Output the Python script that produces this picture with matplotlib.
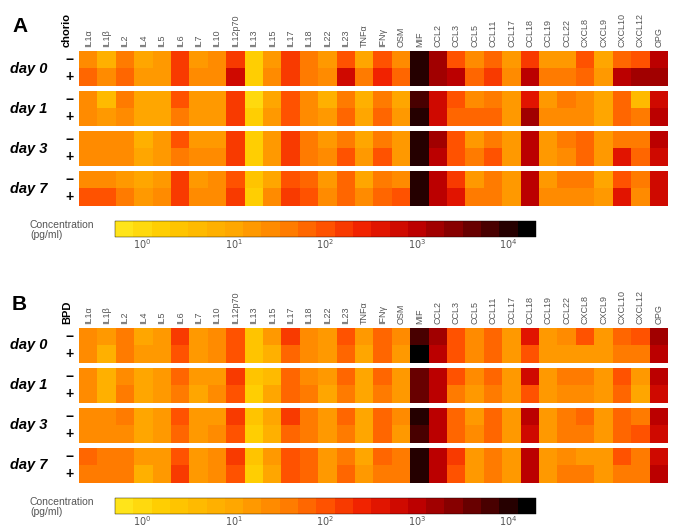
import numpy as np
import matplotlib
matplotlib.use("Agg")
import matplotlib.pyplot as plt
from matplotlib.colors import LinearSegmentedColormap, LogNorm

plt.rcParams["font.family"] = ["Liberation Sans", "DejaVu Sans"]

cytokines = ["IL1\u03b1", "IL1\u03b2", "IL2", "IL4", "IL5", "IL6", "IL7", "IL10", "IL12p70",
             "IL13", "IL15", "IL17", "IL18", "IL22", "IL23", "TNF\u03b1", "IFN\u03b3", "OSM",
             "MIF", "CCL2", "CCL3", "CCL5", "CCL11", "CCL17", "CCL18", "CCL19", "CCL22",
             "CXCL8", "CXCL9", "CXCL10", "CXCL12", "OPG"]
days = ["day 0", "day 1", "day 3", "day 7"]

# log10 concentration (pg/ml), rows: day0-, day0+, day1-, day1+, day3-, day3+, day7-, day7+
chorio_log = [
    [1.4, 0.8, 1.6, 1.0, 1.1, 2.1, 1.2, 1.3, 2.2, 0.1, 1.2, 2.1, 1.5, 1.2, 1.9, 1.0, 1.9, 1.3,
     4.0, 3.1, 2.0, 1.4, 1.7, 1.2, 2.3, 1.1, 1.2, 1.9, 1.0, 1.8, 1.9, 3.0],
    [1.8, 1.4, 1.8, 1.2, 1.2, 2.2, 1.3, 1.4, 2.7, 0.2, 1.3, 2.2, 1.6, 1.3, 2.8, 1.5, 2.4, 1.7,
     4.1, 3.1, 3.0, 1.7, 2.1, 1.3, 3.0, 1.6, 1.6, 1.7, 1.1, 3.0, 3.1, 3.1],
    [1.4, 0.6, 1.5, 1.0, 1.0, 2.0, 1.1, 1.2, 2.1, 0.0, 1.0, 1.9, 1.4, 0.8, 1.5, 0.8, 1.6, 1.0,
     3.7, 2.8, 2.0, 1.3, 1.6, 1.1, 2.5, 1.1, 1.6, 1.3, 0.9, 1.8, 0.6, 2.8],
    [1.3, 1.1, 1.4, 1.0, 1.0, 1.6, 1.1, 1.2, 2.1, 0.1, 1.1, 1.9, 1.3, 1.2, 1.8, 1.0, 1.7, 1.2,
     4.1, 2.8, 1.8, 1.8, 1.7, 1.1, 3.1, 1.3, 1.3, 1.4, 1.0, 1.8, 1.6, 2.9],
    [1.4, 1.3, 1.4, 0.8, 1.2, 1.9, 1.2, 1.2, 2.1, 0.1, 1.2, 2.2, 1.5, 1.1, 1.6, 1.0, 1.6, 1.2,
     4.0, 3.1, 1.9, 1.1, 1.6, 1.2, 3.0, 1.1, 1.6, 1.8, 1.1, 1.6, 1.5, 2.9],
    [1.4, 1.3, 1.4, 1.0, 1.2, 1.6, 1.3, 1.3, 2.1, 0.2, 1.1, 2.1, 1.5, 1.3, 1.9, 1.1, 1.9, 1.2,
     4.0, 3.0, 1.9, 1.5, 1.9, 1.1, 3.0, 1.1, 1.4, 1.8, 1.1, 2.6, 1.8, 2.8],
    [1.3, 1.4, 1.2, 1.0, 1.2, 2.1, 1.2, 1.3, 1.9, 0.3, 0.9, 1.9, 1.8, 1.1, 1.8, 1.0, 1.6, 1.4,
     4.0, 2.9, 2.2, 1.1, 1.5, 1.1, 3.0, 1.1, 1.6, 1.6, 1.0, 2.0, 1.6, 2.8],
    [2.0, 1.9, 1.5, 1.2, 1.3, 2.1, 1.3, 1.4, 2.1, 0.2, 1.3, 2.1, 2.0, 1.3, 1.8, 1.4, 1.8, 1.9,
     4.1, 2.9, 2.5, 1.6, 1.6, 1.1, 3.0, 1.3, 1.4, 1.4, 1.2, 2.6, 1.3, 2.8],
]

bpd_log = [
    [1.4, 1.2, 1.5, 1.0, 1.2, 2.2, 1.2, 1.3, 2.0, 0.4, 1.2, 2.1, 1.4, 1.1, 1.9, 1.1, 1.8, 1.3,
     3.7, 3.1, 2.0, 1.3, 1.8, 1.1, 2.6, 1.2, 1.3, 2.0, 1.1, 1.8, 1.9, 3.1],
    [1.3, 0.8, 1.5, 1.1, 1.2, 1.9, 1.2, 1.3, 2.0, 0.3, 0.8, 1.8, 1.4, 1.1, 1.8, 1.0, 1.8, 1.2,
     4.3, 3.0, 1.9, 1.3, 1.7, 1.1, 2.0, 1.2, 1.2, 1.2, 1.1, 1.5, 1.5, 3.0],
    [1.4, 0.8, 1.4, 0.9, 1.1, 1.7, 1.1, 1.2, 2.1, 0.4, 0.6, 1.7, 1.3, 1.2, 1.7, 1.0, 1.7, 1.2,
     3.6, 3.0, 1.9, 1.3, 1.7, 1.2, 2.7, 1.2, 1.5, 1.5, 1.1, 1.9, 1.1, 2.9],
    [1.3, 0.8, 1.5, 1.0, 1.1, 1.6, 0.9, 1.3, 2.0, 0.2, 0.9, 1.7, 1.5, 1.0, 1.6, 0.9, 1.6, 1.1,
     3.5, 2.9, 1.6, 1.2, 1.5, 1.2, 2.0, 1.2, 1.4, 1.4, 1.1, 1.7, 1.0, 2.8],
    [1.4, 1.3, 1.5, 0.9, 1.2, 2.0, 1.1, 1.2, 2.1, 0.3, 1.0, 2.1, 1.5, 1.2, 1.8, 1.0, 1.8, 1.4,
     4.0, 3.0, 1.8, 1.2, 1.7, 1.1, 2.9, 1.1, 1.5, 1.7, 1.1, 1.7, 1.6, 2.9],
    [1.4, 1.3, 1.4, 0.9, 1.2, 1.8, 1.2, 1.3, 2.0, 0.1, 0.8, 1.8, 1.5, 1.1, 1.6, 1.0, 1.8, 1.2,
     3.8, 3.0, 1.8, 1.3, 1.8, 1.1, 2.8, 1.1, 1.5, 1.6, 1.1, 1.7, 2.0, 2.8],
    [1.8, 1.5, 1.5, 1.2, 1.2, 2.0, 1.2, 1.3, 2.1, 0.4, 1.1, 2.0, 1.8, 1.2, 1.6, 1.0, 1.7, 1.5,
     4.0, 2.9, 2.3, 1.2, 1.6, 1.1, 2.9, 1.1, 1.4, 1.2, 1.1, 2.0, 1.5, 2.8],
    [1.6, 1.5, 1.5, 0.8, 1.2, 2.2, 1.2, 1.3, 2.0, 0.2, 0.9, 1.9, 1.7, 1.2, 1.7, 1.2, 1.6, 1.5,
     4.0, 2.9, 2.0, 1.2, 1.6, 1.1, 2.9, 1.2, 1.5, 1.6, 1.2, 1.6, 1.6, 2.9],
]

cmap = LinearSegmentedColormap.from_list("conc", [
    (0.0, "#ffe41a"), (0.1, "#ffcc00"), (0.28, "#ffa500"), (0.4, "#ff8000"),
    (0.5, "#ff5200"), (0.6, "#f01e00"), (0.72, "#c00000"), (0.83, "#800000"),
    (0.93, "#3a0000"), (1.0, "#000000")]).resampled(23)
norm = LogNorm(vmin=10 ** -0.3, vmax=10 ** 4.3)

W, H = 673, 532
fig = plt.figure(figsize=(6.73, 5.32), dpi=100)


def px_axes(x0, y0, x1, y1):
    return fig.add_axes([x0 / W, 1 - y1 / H, (x1 - x0) / W, (y1 - y0) / H])


def panel(data_log, letter, group, top):
    conc = 10 ** np.array(data_log)
    block_h, gap = 35.0, 5.0
    for i, day in enumerate(days):
        y0 = top + i * (block_h + gap)
        ax = px_axes(79, y0, 668, y0 + block_h)
        ax.imshow(conc[2 * i:2 * i + 2], cmap=cmap, norm=norm, aspect="auto",
                  interpolation="nearest")
        ax.set_yticks([])
        for s in ax.spines.values():
            s.set_visible(False)
        if i == 0:
            ax.xaxis.tick_top()
            ax.set_xticks(range(len(cytokines)))
            ax.set_xticklabels(cytokines, rotation=90, fontsize=6.5, color="#555555")
            ax.tick_params(axis="x", length=0, pad=3)
        else:
            ax.set_xticks([])
        ax.text(-0.016, 0.75, "\u2212", transform=ax.transAxes, ha="center", va="center",
                fontsize=10, fontweight="bold")
        ax.text(-0.016, 0.25, "+", transform=ax.transAxes, ha="center", va="center",
                fontsize=10, fontweight="bold")
        fig.text(29 / W, 1 - (y0 + block_h / 2) / H, day, ha="center", va="center",
                 fontsize=10.5, fontweight="bold", style="italic")
    fig.text(67 / W, 1 - (top - 4) / H, group, rotation=90, ha="center", va="bottom",
             fontsize=8, fontweight="bold")
    fig.text(12 / W, 1 - (top - 24) / H, letter, ha="left", va="center",
             fontsize=15, fontweight="bold")

    # colour scale
    cb_top = top + 4 * block_h + 3 * gap + 15
    cax = px_axes(115, cb_top, 536, cb_top + 16)
    sm = plt.cm.ScalarMappable(norm=norm, cmap=cmap)
    cb = fig.colorbar(sm, cax=cax, orientation="horizontal")
    cb.outline.set_linewidth(0.3)
    cb.set_ticks([1, 10, 100, 1000, 10000])
    cb.set_ticklabels(["$10^{0}$", "$10^{1}$", "$10^{2}$", "$10^{3}$", "$10^{4}$"])
    cax.tick_params(length=0, labelsize=7, labelcolor="#555555", pad=0.5)
    cax.minorticks_off()
    fig.text(30 / W, 1 - (cb_top + 9) / H, "Concentration\n(pg/ml)", ha="left",
             va="center", fontsize=7.5, color="#555555", linespacing=1.1)


panel(chorio_log, "A", "chorio", 51)
panel(bpd_log, "B", "BPD", 328)

fig.savefig("out.png", dpi=100)
